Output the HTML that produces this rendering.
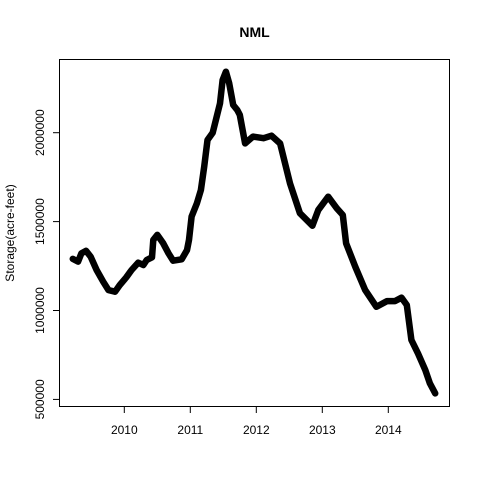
<!DOCTYPE html>
<html><head><meta charset="utf-8"><style>
html,body{margin:0;padding:0;background:#fff;}
svg{display:block;font-family:"Liberation Sans",Arial,sans-serif;}
</style></head><body>
<svg id="chart" width="480" height="480">
<rect x="0" y="0" width="480" height="480" fill="#fff"/>
<text x="254.5" y="37" text-anchor="middle" font-size="14" font-weight="bold">NML</text>
<text transform="translate(14,233) rotate(-90)" text-anchor="middle" font-size="12">Storage(acre-feet)</text>
<rect x="59.5" y="59.5" width="390" height="347" fill="none" stroke="#000" stroke-width="1"/>
<g id="xaxis"></g>
<g id="yaxis"></g>
<g id="series"></g>
</svg>
<script>
const years = [2009.22,2009.30,2009.35,2009.42,2009.49,2009.58,2009.68,2009.76,2009.86,2009.93,2010.03,2010.11,2010.21,2010.29,2010.34,2010.42,2010.44,2010.50,2010.59,2010.67,2010.74,2010.87,2010.95,2010.98,2011.02,2011.10,2011.16,2011.21,2011.26,2011.34,2011.40,2011.45,2011.49,2011.54,2011.59,2011.65,2011.71,2011.75,2011.83,2011.95,2012.11,2012.23,2012.36,2012.51,2012.66,2012.85,2012.94,2013.09,2013.22,2013.31,2013.36,2013.50,2013.65,2013.82,2013.98,2014.10,2014.20,2014.28,2014.35,2014.45,2014.56,2014.63,2014.71];
const storage = [1290000,1275000,1322000,1336000,1303000,1228000,1162000,1115000,1106000,1143000,1187000,1228000,1269000,1256000,1284000,1299000,1397000,1425000,1378000,1322000,1280000,1288000,1340000,1397000,1528000,1603000,1678000,1809000,1959000,2000000,2090000,2165000,2296000,2343000,2278000,2156000,2128000,2100000,1940000,1978000,1969000,1983000,1940000,1715000,1547000,1477000,1565000,1640000,1575000,1537000,1378000,1246000,1115000,1021000,1053000,1053000,1072000,1031000,834000,759000,665000,590000,534000];
const xTicks = [2010,2011,2012,2013,2014];
const yTicks = [500000,1000000,1500000,2000000];

const NS = "http://www.w3.org/2000/svg";
function xs(yr){ return 124.3 + (yr - 2010) * 66; }
function ys(v){ return 132.7 - (v - 2000000) / 5624; }
function mk(tag, attrs, parent){ const e = document.createElementNS(NS, tag); for (const k in attrs) e.setAttribute(k, attrs[k]); parent.appendChild(e); return e; }

const xg = document.getElementById('xaxis');
mk('line', {x1: xs(xTicks[0]), x2: xs(xTicks[xTicks.length-1]), y1: 406.5, y2: 406.5, stroke: '#000'}, xg);
xTicks.forEach(t => {
  const l = mk('line', {x1: xs(t), x2: xs(t), y1: 406.5, y2: 413, stroke: '#000'}, xg);
  
  
  const tx = mk('text', {x: xs(t), y: 434, 'text-anchor': 'middle', 'font-size': 12}, xg);
  tx.textContent = t;
  
  
});

const yg = document.getElementById('yaxis');
mk('line', {x1: 59.5, x2: 59.5, y1: ys(yTicks[0]), y2: ys(yTicks[yTicks.length-1]), stroke: '#000'}, yg);
yTicks.forEach(t => {
  const l = mk('line', {x1: 53, x2: 59.5, y1: ys(t), y2: ys(t), stroke: '#000'}, yg);
  
  
  const tx = mk('text', {transform: 'translate(44,' + ys(t) + ') rotate(-90)', 'text-anchor': 'middle', 'font-size': 12}, yg);
  tx.textContent = t;
  
  
});

const sg = document.getElementById('series');
const pts = years.map((y, i) => xs(y).toFixed(1) + ',' + ys(storage[i]).toFixed(1)).join(' ');
const pl = mk('polyline', {points: pts, fill: 'none', stroke: '#000', 'stroke-width': 6.5, 'stroke-linejoin': 'round', 'stroke-linecap': 'round'}, sg);


</script>
</body></html>
